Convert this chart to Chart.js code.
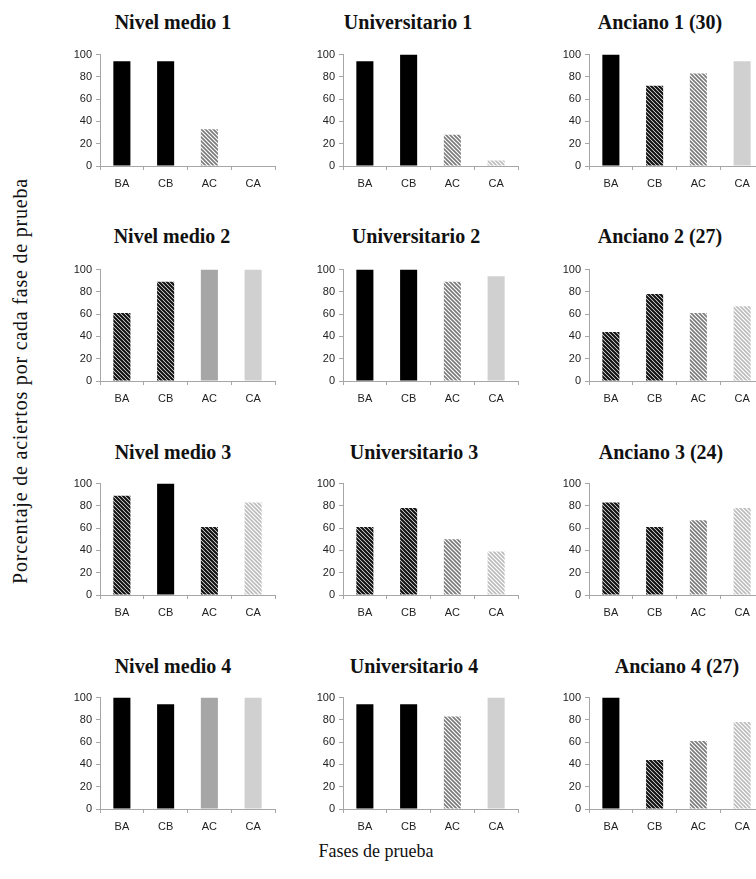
<!DOCTYPE html>
<html>
<head>
<meta charset="utf-8">
<script src="https://cdn.jsdelivr.net/npm/chart.js@4"></script>
<style>
    body { margin: 0; width: 756px; height: 879px; overflow: hidden; background: #fff; position: relative; }
    canvas { position: absolute; }
    .title { position: absolute; font: bold 20px "Liberation Serif", serif; color: #111; white-space: nowrap; transform: translate(-50%, -50%); }
    .axis-title { position: absolute; font: 18px "Liberation Serif", serif; color: #111; white-space: nowrap; transform: translate(-50%, -50%); }
</style>
</head>
<body>
<div class="axis-title" style="left:20px; top:381px; font-size:20px; letter-spacing:0.8px; transform: translate(-50%, -50%) rotate(-90deg);">Porcentaje de aciertos por cada fase de prueba</div>
<div class="axis-title" style="left:376px; top:851px;">Fases de prueba</div>
<script>
const phases = ['BA', 'CB', 'AC', 'CA'];
const yTicks = [0, 20, 40, 60, 80, 100];

const titles = [
    'Nivel medio 1', 'Universitario 1', 'Anciano 1 (30)',
    'Nivel medio 2', 'Universitario 2', 'Anciano 2 (27)',
    'Nivel medio 3', 'Universitario 3', 'Anciano 3 (24)',
    'Nivel medio 4', 'Universitario 4', 'Anciano 4 (27)'
];

const values = [
    [94, 94, 33, 0], [94, 100, 28, 5], [100, 72, 83, 94],
    [61, 89, 100, 100], [100, 100, 89, 94], [44, 78, 61, 67],
    [89, 100, 61, 83], [61, 78, 50, 39], [83, 61, 67, 78],
    [100, 94, 100, 100], [94, 94, 83, 100], [100, 44, 61, 78]
];

// fill style per bar (k = black, d = dark hatch, l = light hatch, v = very light hatch, m = mid grey, g = light grey)
const barFills = [
    'kklv', 'kklv', 'kdlg',
    'ddmg', 'kklg', 'ddlv',
    'dkdv', 'ddlv', 'ddlv',
    'kkmg', 'kklg', 'kdlv'
];

const colX = [100, 343, 589];
const rowZero = [166, 381, 595, 809];
const titleX = [173, 408, 660, 172, 416, 660, 173, 414, 661, 173, 414, 677];
const titleY = [22, 236, 452, 666];
const plotW = 175;
const plotH = 114;
const leftW = 36;
const topPad = 8;
const bottomH = 28;

function makeHatch(line, bg, size, width) {
    const c = document.createElement('canvas');
    c.width = size;
    c.height = size;
    const g = c.getContext('2d');
    g.fillStyle = bg;
    g.fillRect(0, 0, size, size);
    g.strokeStyle = line;
    g.lineWidth = width;
    g.beginPath();
    for (let o = -size; o <= size; o += size) {
        g.moveTo(o - 1, -1);
        g.lineTo(o + size + 1, size + 1);
    }
    g.stroke();
    return g.createPattern(c, 'repeat');
}

const fillMap = {
    k: '#000000',
    d: makeHatch('#111111', '#ffffff', 4, 2.2),
    l: makeHatch('#7a7a7a', '#ffffff', 4, 1.6),
    v: makeHatch('#bcbcbc', '#ffffff', 4, 1.6),
    m: '#a6a6a6',
    g: '#d0d0d0'
};

const axisColor = '#a6a6a6';
const tickFont = { family: 'Liberation Sans', size: 11 };

titles.forEach((title, i) => {
    const col = i % 3;
    const row = Math.floor(i / 3);
    const left = colX[col] - leftW;
    const top = rowZero[row] - plotH - topPad;

    const t = document.createElement('div');
    t.className = 'title';
    t.textContent = title;
    t.style.left = titleX[i] + 'px';
    t.style.top = titleY[row] + 'px';
    document.body.appendChild(t);

    const cv = document.createElement('canvas');
    cv.width = leftW + plotW + 2;
    cv.height = topPad + plotH + bottomH;
    cv.style.left = left + 'px';
    cv.style.top = top + 'px';
    document.body.appendChild(cv);

    new Chart(cv, {
        type: 'bar',
        data: {
            labels: phases,
            datasets: [{
                data: values[i],
                backgroundColor: barFills[i].split('').map(k => fillMap[k]),
                borderWidth: 0,
                categoryPercentage: 1,
                barPercentage: 0.39
            }]
        },
        options: {
            responsive: false,
            animation: false,
            layout: { padding: { top: topPad, right: 2, left: 0, bottom: 0 } },
            plugins: { legend: { display: false }, tooltip: { enabled: false } },
            scales: {
                x: {
                    afterFit: s => { s.height = bottomH; },
                    border: { color: axisColor },
                    grid: { drawOnChartArea: false, color: axisColor, tickLength: 4 },
                    ticks: { font: tickFont, color: '#222', padding: 7 }
                },
                y: {
                    min: 0,
                    max: 100,
                    afterFit: s => { s.width = leftW; },
                    afterBuildTicks: s => { s.ticks = yTicks.map(v => ({ value: v })); },
                    border: { color: axisColor },
                    grid: { drawOnChartArea: false, color: axisColor, tickLength: 4 },
                    ticks: { font: tickFont, color: '#222', padding: 4 }
                }
            }
        }
    });
});
</script>
</body>
</html>
